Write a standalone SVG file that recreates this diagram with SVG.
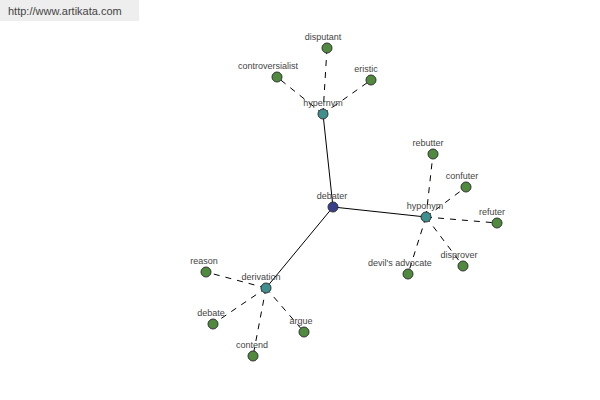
<svg xmlns="http://www.w3.org/2000/svg" width="600" height="400" viewBox="0 0 600 400">
<style>
.e{stroke:#000;stroke-width:1;fill:none}
.d{stroke:#000;stroke-width:1;fill:none;stroke-dasharray:6,6}
.n circle{stroke:#333;stroke-width:1}
.leaf{fill:#4f8a3f}
.hub{fill:#3f8f8f}
.root{fill:#3a3f8c}
text{font-family:"Liberation Sans",Arial,sans-serif;font-size:9px;fill:#444;text-anchor:middle}
</style>
<rect width="600" height="400" fill="#fff"/>
<rect x="0" y="0" width="139" height="21" fill="#eeeeee"/>
<text x="8" y="15" style="font-size:11px;text-anchor:start;fill:#444">http://www.artikata.com</text>
<g id="connectors">
<line class="e" x1="333" y1="207" x2="323" y2="114"/>
<line class="e" x1="333" y1="207" x2="426" y2="217"/>
<line class="e" x1="333" y1="207" x2="266" y2="288"/>
<line class="d" x1="323" y1="114" x2="327" y2="48"/>
<line class="d" x1="323" y1="114" x2="277" y2="77"/>
<line class="d" x1="323" y1="114" x2="371" y2="80"/>
<line class="d" x1="426" y1="217" x2="433" y2="154"/>
<line class="d" x1="426" y1="217" x2="466" y2="187"/>
<line class="d" x1="426" y1="217" x2="497" y2="223"/>
<line class="d" x1="426" y1="217" x2="463" y2="266"/>
<line class="d" x1="426" y1="217" x2="408" y2="274"/>
<line class="d" x1="266" y1="288" x2="206" y2="272"/>
<line class="d" x1="266" y1="288" x2="213" y2="324"/>
<line class="d" x1="266" y1="288" x2="253" y2="356"/>
<line class="d" x1="266" y1="288" x2="304" y2="332"/>
</g>
<g id="debater" class="n"><circle class="root" cx="333" cy="207" r="5"/><text x="332" y="199">debater</text></g>
<g id="hypernym" class="n"><circle class="hub" cx="323" cy="114" r="5"/><text x="323" y="106">hypernym</text></g>
<g id="hyponym" class="n"><circle class="hub" cx="426" cy="217" r="5"/><text x="425" y="209">hyponym</text></g>
<g id="derivation" class="n"><circle class="hub" cx="266" cy="288" r="5"/><text x="261" y="280">derivation</text></g>
<g id="disputant" class="n"><circle class="leaf" cx="327" cy="48" r="5"/><text x="323" y="40">disputant</text></g>
<g id="controversialist" class="n"><circle class="leaf" cx="277" cy="77" r="5"/><text x="268" y="69">controversialist</text></g>
<g id="eristic" class="n"><circle class="leaf" cx="371" cy="80" r="5"/><text x="366" y="72">eristic</text></g>
<g id="rebutter" class="n"><circle class="leaf" cx="433" cy="154" r="5"/><text x="428" y="146">rebutter</text></g>
<g id="confuter" class="n"><circle class="leaf" cx="466" cy="187" r="5"/><text x="462" y="179">confuter</text></g>
<g id="refuter" class="n"><circle class="leaf" cx="497" cy="223" r="5"/><text x="492" y="215">refuter</text></g>
<g id="disprover" class="n"><circle class="leaf" cx="463" cy="266" r="5"/><text x="459" y="258">disprover</text></g>
<g id="devils-advocate" class="n"><circle class="leaf" cx="408" cy="274" r="5"/><text x="400" y="266">devil's advocate</text></g>
<g id="reason" class="n"><circle class="leaf" cx="206" cy="272" r="5"/><text x="204" y="264">reason</text></g>
<g id="debate" class="n"><circle class="leaf" cx="213" cy="324" r="5"/><text x="211" y="316">debate</text></g>
<g id="contend" class="n"><circle class="leaf" cx="253" cy="356" r="5"/><text x="252" y="348">contend</text></g>
<g id="argue" class="n"><circle class="leaf" cx="304" cy="332" r="5"/><text x="301" y="324">argue</text></g>
</svg>
